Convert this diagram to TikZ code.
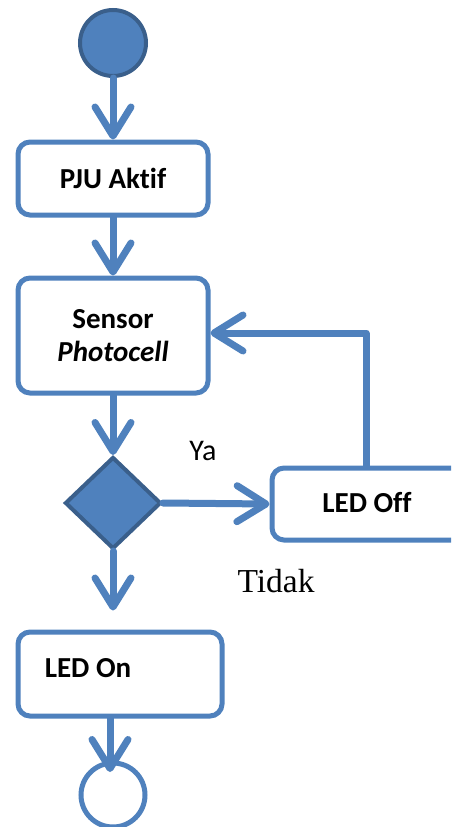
\documentclass[tikz,border=0pt]{standalone}
\usepackage{fontspec}
\setmainfont{Carlito}[Ligatures={NoCommon,NoRare}]
\newfontfamily\timesfont{Liberation Serif}
\usetikzlibrary{shapes.geometric,arrows.meta}
\definecolor{ublue}{HTML}{4F81BD}
\definecolor{udark}{HTML}{3A5F8B}
\tikzset{
  actbox/.style={draw=ublue,line width=5pt,rounded corners=12pt,fill=white,inner sep=0pt,font=\fontsize{29}{34}\selectfont\bfseries,align=center},
  boxtext/.style={font=\fontsize{29}{34}\selectfont\bfseries},
  flow/.style={draw=ublue,line width=7pt,line cap=round,line join=round,-{Straight Barb[length=29pt,width=36pt,round]}},
}
\begin{document}
\begin{tikzpicture}[x=1pt,y=-1pt]
\useasboundingbox (0,0) rectangle (451,827);
\clip (0,0) rectangle (451,827);
\node[circle,draw=udark,fill=ublue,line width=4pt,minimum size=66pt,inner sep=0pt] (start) at (113,43) {};
\node[actbox,minimum width=190pt,minimum height=73pt] (pju) at (113,178.5) {PJU Aktif};
\node[actbox,minimum width=190pt,minimum height=115pt] (sensor) at (113,335.5) {Sensor\\[-1pt]\textit{Photocell}};
\node[diamond,draw=udark,fill=ublue,line width=4pt,minimum width=96pt,minimum height=92pt,inner sep=0pt] (dec) at (113,503) {};
\node[actbox,minimum width=200pt,minimum height=72pt] (ledoff) at (372,504) {};
\node[boxtext] (tledoff) at (367,503) {LED Off};
\node[actbox,minimum width=204pt,minimum height=84pt] (ledon) at (120,674) {};
\node[boxtext] (tledon) at (88,668) {LED On};
\node[circle,draw=ublue,fill=white,line width=5pt,minimum size=64pt,inner sep=0pt] (endc) at (113,795) {};
\node[font=\fontsize{30}{36}\selectfont] (ya) at (203,451) {Ya};
\node[font=\fontsize{33.5}{40}\selectfont\timesfont] (tidak) at (276,581) {Tidak};
\coordinate (fb) at (366,333);
\coordinate (x6) at (110,0);
\coordinate (tip6) at (110,772);
\draw[flow] (start) -- (pju);
\draw[flow] (pju) -- (sensor);
\draw[flow] (sensor) -- (dec);
\draw[flow] (dec.east) -- (ledoff.west);
\draw[flow,shorten >=19pt] (dec.south) -- (dec.south |- ledon.north);
\draw[flow] (ledoff.north -| fb) -- (fb) -- (sensor.east |- fb);
\draw[flow] (ledon.south -| x6) -- (tip6);
\end{tikzpicture}
\end{document}
